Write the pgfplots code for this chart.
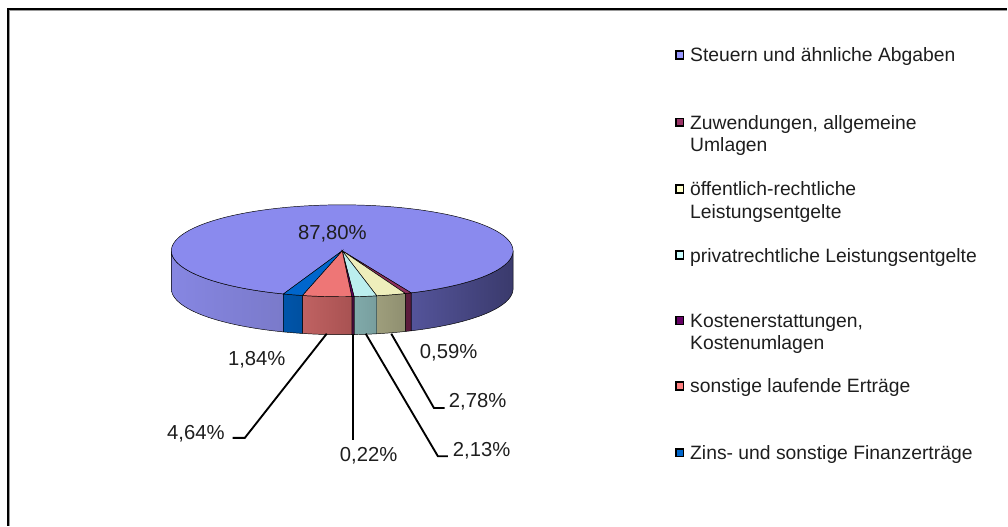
\documentclass[border=0pt]{standalone}
\usepackage{pgfplots}
\usepackage{pgfplotstable}
\pgfplotsset{compat=1.18}
\usepackage{fontspec}
\setmainfont{Liberation Sans}

\definecolor{txt}{HTML}{1E1E1E}
% legend colours
\definecolor{cSt}{HTML}{9999FF}
\definecolor{cZu}{HTML}{993366}
\definecolor{cOe}{HTML}{FFFFCC}
\definecolor{cPr}{HTML}{CCFFFF}
\definecolor{cKo}{HTML}{660066}
\definecolor{cSo}{HTML}{FF8080}
\definecolor{cZi}{HTML}{0066CC}
% top faces
\definecolor{tSt}{HTML}{8A8AEE}
\definecolor{tZu}{HTML}{8C2E5C}
\definecolor{tOe}{HTML}{EEEEBB}
\definecolor{tPr}{HTML}{BBEEEE}
\definecolor{tKo}{HTML}{5E005E}
\definecolor{tSo}{HTML}{EE7676}
\definecolor{tZi}{HTML}{0066CC}
% side faces
\definecolor{sStLa}{HTML}{8686E2}\definecolor{sStLb}{HTML}{7A7ACA}
\definecolor{sStRa}{HTML}{54549A}\definecolor{sStRb}{HTML}{3A3A6C}
\definecolor{sZu}{HTML}{5C1C3C}
\definecolor{sOea}{HTML}{9E9E7C}\definecolor{sOeb}{HTML}{8F8F70}
\definecolor{sPra}{HTML}{80AAAA}\definecolor{sPrb}{HTML}{789E9E}
\definecolor{sKo}{HTML}{4D0D40}
\definecolor{sSoa}{HTML}{C06262}\definecolor{sSob}{HTML}{A85252}
\definecolor{sZia}{HTML}{0055AA}\definecolor{sZib}{HTML}{0050A0}

% values (percent), in Excel order (clockwise)
\pgfplotstableread{
id value
1 87.80
2 0.59
3 2.78
4 2.13
5 0.22
6 4.64
7 1.84
}\piedata

\newcommand\cx{342.5}
\newcommand\cy{251}
\newcommand\rx{171}
\newcommand\ry{46}
\newcommand\dd{38}
\newcommand\startangle{249.88}
\newcommand\ang[2]{\csname ang#1#2\endcsname}

\newcommand\lbl{\fontsize{15.2}{18}\selectfont}
\newcommand\lgd{\fontsize{14.5}{17}\selectfont}

% side wall: #1 from angle, #2 to angle (#1<#2), #3 left colour, #4 right colour
\newcommand{\sidewall}[4]{%
\addplot[left color=#3, right color=#4, draw=black, line width=0.35pt, variable=\t,
  samples at={0,1,...,40,100,101,...,140,200}]
({\cx+\rx*cos(ifthenelse(\t<80,(#1)+((#2)-(#1))*\t/40,ifthenelse(\t<150,(#2)-((#2)-(#1))*(\t-100)/40,(#1))))},
 {\cy-\ry*sin(ifthenelse(\t<80,(#1)+((#2)-(#1))*\t/40,ifthenelse(\t<150,(#2)-((#2)-(#1))*(\t-100)/40,(#1))))+\dd*(\t>80)*(\t<150)});
}
% top face: #1 from angle, #2 to angle, #3 fill
\newcommand{\topface}[3]{%
\addplot[fill=#3, draw=black, line width=0.35pt, variable=\t,
  samples at={0,1,...,120,200,300}]
({\cx+(1-(\t>150)*(\t<250))*\rx*cos((#1)+((#2)-(#1))*(\t<150)*\t/120)},
 {\cy-(1-(\t>150)*(\t<250))*\ry*sin((#1)+((#2)-(#1))*(\t<150)*\t/120)});
}

\begin{document}
\begin{tikzpicture}
\def\cum{0}
\pgfplotsforeachungrouped \i in {0,...,6}{%
  \pgfplotstablegetelem{\i}{value}\of\piedata
  \pgfmathsetmacro\tmpA{\startangle-3.6*\cum}%
  \pgfmathsetmacro\cum{\cum+\pgfplotsretval}%
  \pgfmathsetmacro\tmpB{\startangle-3.6*\cum}%
  \expandafter\xdef\csname angA\i\endcsname{\tmpA}%
  \expandafter\xdef\csname angB\i\endcsname{\tmpB}%
}
\begin{axis}[width=756pt, height=394.5pt, scale only axis,
  xmin=0, xmax=1008, ymin=0, ymax=526, y dir=reverse,
  hide axis, clip=false]
\path (rel axis cs:0,0) rectangle (rel axis cs:1,1);
% frame
\draw[black, line width=1.3pt] (axis cs:7.8,526) -- (axis cs:7.8,8.8) -- (axis cs:1008,8.8);
\draw[black!40, line width=0.7pt] (axis cs:9.6,526) -- (axis cs:9.6,10.6) -- (axis cs:1008,10.6);

% side walls
\sidewall{180}{\ang{A}{0}}{sStLa}{sStLb}
\sidewall{\ang{B}{0}+360}{360}{sStRa}{sStRb}
\sidewall{\ang{B}{1}}{\ang{A}{1}}{sZu}{sZu}
\sidewall{\ang{B}{2}}{\ang{A}{2}}{sOea}{sOeb}
\sidewall{\ang{B}{3}}{\ang{A}{3}}{sPra}{sPrb}
\sidewall{\ang{B}{4}}{\ang{A}{4}}{sKo}{sKo}
\sidewall{\ang{B}{5}}{\ang{A}{5}}{sSoa}{sSob}
\sidewall{\ang{B}{6}}{\ang{A}{6}}{sZia}{sZib}

% top faces
\topface{\ang{B}{0}}{\ang{A}{0}}{tSt}
\topface{\ang{B}{1}}{\ang{A}{1}}{tZu}
\topface{\ang{B}{2}}{\ang{A}{2}}{tOe}
\topface{\ang{B}{3}}{\ang{A}{3}}{tPr}
\topface{\ang{B}{4}}{\ang{A}{4}}{tKo}
\topface{\ang{B}{5}}{\ang{A}{5}}{tSo}
\topface{\ang{B}{6}}{\ang{A}{6}}{tZi}

% leader lines
\draw[black, line width=1.4pt] (axis cs:327,334) -- (axis cs:245,438.3) -- (axis cs:232.7,438.3);
\draw[black, line width=1.4pt] (axis cs:353.5,334) -- (axis cs:353.5,440);
\draw[black, line width=1.4pt] (axis cs:366,334) -- (axis cs:438.3,456.7) -- (axis cs:448.3,456.7);
\draw[black, line width=1.4pt] (axis cs:391.6,334) -- (axis cs:434.3,408.3) -- (axis cs:445,408.3);

% data labels
\node[anchor=base west, inner sep=0, text=txt, font=\lbl] at (axis cs:298,240) {87,80\%};
\node[anchor=base west, inner sep=0, text=txt, font=\lbl] at (axis cs:228,366) {1,84\%};
\node[anchor=base west, inner sep=0, text=txt, font=\lbl] at (axis cs:167,440) {4,64\%};
\node[anchor=base west, inner sep=0, text=txt, font=\lbl] at (axis cs:340,461.7) {0,22\%};
\node[anchor=base west, inner sep=0, text=txt, font=\lbl] at (axis cs:453,457.3) {2,13\%};
\node[anchor=base west, inner sep=0, text=txt, font=\lbl] at (axis cs:449,408.3) {2,78\%};
\node[anchor=base west, inner sep=0, text=txt, font=\lbl] at (axis cs:420,359.3) {0,59\%};

% legend
\newcommand\lgdbox[2]{\draw[black, line width=1.3pt, fill=#2] (axis cs:676.6,#1-10.8) rectangle (axis cs:684.2,#1-3.0);}
\newcommand\lgdtxt[2]{\node[anchor=base west, inner sep=0, text=txt, font=\lgd] at (axis cs:690.5,#1) {#2};}
\lgdbox{62}{cSt}\lgdtxt{62}{Steuern und ähnliche Abgaben}
\lgdbox{129.3}{cZu}\lgdtxt{129.3}{Zuwendungen, allgemeine}\lgdtxt{151.7}{Umlagen}
\lgdbox{196}{cOe}\lgdtxt{196}{öffentlich-rechtliche}\lgdtxt{218.3}{Leistungsentgelte}
\lgdbox{262.3}{cPr}\lgdtxt{262.3}{privatrechtliche Leistungsentgelte}
\lgdbox{327.7}{cKo}\lgdtxt{327.7}{Kostenerstattungen,}\lgdtxt{350}{Kostenumlagen}
\lgdbox{393.3}{cSo}\lgdtxt{393.3}{sonstige laufende Erträge}
\lgdbox{460}{cZi}\lgdtxt{460}{Zins- und sonstige Finanzerträge}
\end{axis}
\end{tikzpicture}
\end{document}
